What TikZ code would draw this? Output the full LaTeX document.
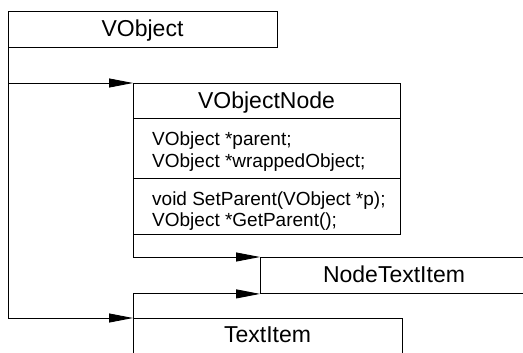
\documentclass[tikz,border=0pt]{standalone}
\usepackage{fontspec}
\setmainfont{Liberation Sans}
\usetikzlibrary{arrows.meta}
\begin{document}
\begin{tikzpicture}[x=1bp,y=-1bp,
  box/.style={draw=black, line width=0.9bp, inner sep=0pt, anchor=north west},
  title/.style={font=\fontsize{23bp}{27bp}\selectfont, anchor=base, inner sep=0pt},
  member/.style={font=\fontsize{19bp}{22bp}\selectfont, anchor=base west, inner sep=0pt},
  inherit/.style={draw=black, line width=0.9bp, -{Triangle[length=24bp,width=9bp]}},
  sepline/.style={draw=black, line width=0.9bp}]
\useasboundingbox (0,0) rectangle (523,352);
% boxes
\node[box, minimum width=269bp, minimum height=36bp] (vobj) at (8,11) {};
\node[box, minimum width=267bp, minimum height=151bp] (vonode) at (133,83) {};
\node[box, minimum width=268bp, minimum height=36bp] (ntext) at (260,257) {};
\node[box, minimum width=269bp, minimum height=36bp] (textitem) at (133,318) {};
% titles
\node[title] (vobjT) at (142.5,36.5) {VObject};
\node[title] (vonodeT) at (266.5,108.5) {VObjectNode};
\node[title] (ntextT) at (394,282.5) {NodeTextItem};
\node[title] (textitemT) at (267.5,342.5) {TextItem};
% separators
\draw[sepline] (vonode.west |- 0,118) -- (vonode.east |- 0,118);
\draw[sepline] (vonode.west |- 0,178) -- (vonode.east |- 0,178);
% members
\node[member] (attr1) at (152,145) {VObject *parent;};
\node[member] (attr2) at (152,167) {VObject *wrappedObject;};
\node[member] (meth1) at (152,205) {void SetParent(VObject *p);};
\node[member] (meth2) at (152,226) {VObject *GetParent();};
% connectors
\draw[inherit] (vobj.south west) |- (vonode.north west);
\draw[inherit] (vobj.south west) |- (textitem.north west);
\draw[inherit] (vonode.south west) |- (ntext.north west);
\draw[inherit] (textitem.north west) |- (ntext.south west);
\end{tikzpicture}
\end{document}
